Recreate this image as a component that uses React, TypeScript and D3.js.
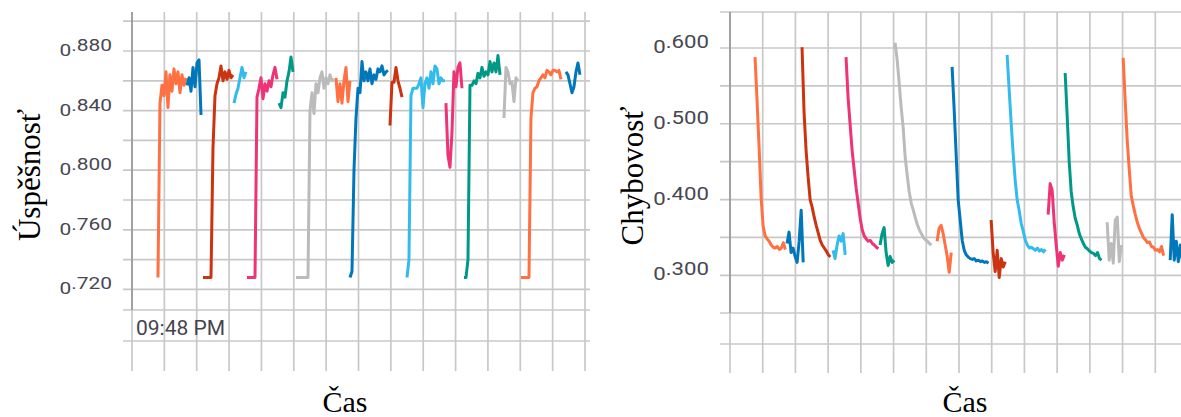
import React from "react";
import * as d3 from "d3";

// ---- data -------------------------------------------------------------
// time in minutes from the first grid line; one logged sample every TIME_STEP
const TIME_STEP = 0.0618;
const timeTicks = d3.range(0, 15);
const timeLabel = "09:48 PM";

const runColors = [
  "#ff7043", "#0077bb", "#cc3311", "#33bbee", "#ee3377", "#009988", "#bbbbbb", "#ff7043",
  "#0077bb", "#cc3311", "#33bbee", "#ee3377", "#009988", "#bbbbbb", "#ff7043", "#0077bb",
];

// accuracy (Úspěšnosť)
const accStarts = [0.803, 1.7, 2.194, 3.152, 3.554, 4.543, 5.068, 6.304, 6.737, 7.973, 8.498, 9.703, 10.26, 11.496, 12.021, 13.412];
const acc01 = [0.728, 0.845, 0.857, 0.85, 0.866, 0.842, 0.864, 0.853, 0.868, 0.858, 0.866, 0.852, 0.864, 0.857, 0.862];
const acc02 = [0.857, 0.862, 0.853, 0.869, 0.856, 0.872, 0.874, 0.837];
const acc03 = [0.728, 0.728, 0.728, 0.728, 0.728, 0.815, 0.85, 0.858, 0.862, 0.87, 0.86, 0.866, 0.861, 0.867, 0.862, 0.864];
const acc04 = [0.845, 0.851, 0.855, 0.862, 0.869, 0.862, 0.866];
const acc05 = [0.728, 0.728, 0.728, 0.728, 0.728, 0.849, 0.855, 0.862, 0.848, 0.858, 0.853, 0.86, 0.856, 0.864, 0.869, 0.861];
const acc06 = [0.845, 0.842, 0.852, 0.849, 0.86, 0.866, 0.876, 0.866];
const acc07 = [0.728, 0.728, 0.728, 0.728, 0.728, 0.728, 0.728, 0.84, 0.852, 0.838, 0.858, 0.852, 0.862, 0.866, 0.855, 0.862, 0.858, 0.864, 0.86, 0.861];
const acc08 = [0.862, 0.846, 0.858, 0.845, 0.86, 0.869, 0.846, 0.86];
const acc09 = [0.728, 0.732, 0.8, 0.835, 0.855, 0.852, 0.873, 0.86, 0.866, 0.86, 0.868, 0.858, 0.864, 0.861, 0.868, 0.866, 0.87, 0.864, 0.866, 0.867];
const acc10 = [0.83, 0.859, 0.859, 0.869, 0.86, 0.855, 0.849];
const acc11 = [0.728, 0.74, 0.85, 0.855, 0.855, 0.855, 0.858, 0.862, 0.842, 0.858, 0.862, 0.855, 0.866, 0.858, 0.87, 0.868, 0.858, 0.862, 0.86, 0.86];
const acc12 = [0.845, 0.81, 0.802, 0.825, 0.866, 0.856, 0.869, 0.872, 0.855];
const acc13 = [0.728, 0.728, 0.74, 0.857, 0.857, 0.86, 0.858, 0.865, 0.862, 0.869, 0.863, 0.866, 0.864, 0.873, 0.866, 0.872, 0.866, 0.877, 0.864];
const acc14 = [0.835, 0.869, 0.866, 0.858, 0.859, 0.846, 0.862, 0.86];
const acc15 = [0.728, 0.728, 0.728, 0.728, 0.728, 0.835, 0.852, 0.855, 0.856, 0.86, 0.862, 0.864, 0.862, 0.867, 0.866, 0.864, 0.867, 0.867, 0.866, 0.867, 0.861];
const acc16 = [0.866, 0.864, 0.858, 0.852, 0.856, 0.866, 0.872, 0.864];
const accSeries = [acc01, acc02, acc03, acc04, acc05, acc06, acc07, acc08, acc09, acc10, acc11, acc12, acc13, acc14, acc15, acc16];
const accTicks = [0.72, 0.76, 0.8, 0.84, 0.88];
const accGrid = d3.range(0, 10).map((i) => 0.72 + i * 0.02);

// loss (Chybovosť)
const lossStarts = [0.765, 1.743, 2.202, 3.15, 3.547, 4.587, 5.046, 6.33, 6.789, 7.982, 8.471, 9.725, 10.245, 11.529, 12.018, 13.456];
const loss01 = [0.588, 0.531, 0.47, 0.403, 0.365, 0.352, 0.348, 0.345, 0.34, 0.337, 0.336, 0.338, 0.334, 0.336, 0.343, 0.334];
const loss02 = [0.342, 0.357, 0.33, 0.336, 0.325, 0.317, 0.345, 0.386, 0.317];
const loss03 = [0.601, 0.515, 0.465, 0.43, 0.4, 0.39, 0.377, 0.366, 0.356, 0.346, 0.34, 0.336, 0.332, 0.327, 0.324];
const loss04 = [0.333, 0.322, 0.34, 0.352, 0.345, 0.355, 0.327];
const loss05 = [0.588, 0.535, 0.5, 0.465, 0.44, 0.415, 0.395, 0.375, 0.36, 0.352, 0.348, 0.345, 0.346, 0.342, 0.34, 0.337, 0.335];
const loss06 = [0.34, 0.355, 0.363, 0.33, 0.313, 0.325, 0.317, 0.32];
const loss07 = [0.607, 0.585, 0.555, 0.522, 0.495, 0.456, 0.432, 0.41, 0.395, 0.386, 0.376, 0.367, 0.36, 0.355, 0.35, 0.347, 0.345, 0.342, 0.34];
const loss08 = [0.345, 0.362, 0.366, 0.355, 0.34, 0.325, 0.304, 0.33];
const loss09 = [0.575, 0.52, 0.46, 0.4, 0.373, 0.346, 0.333, 0.327, 0.324, 0.322, 0.321, 0.322, 0.319, 0.32, 0.318, 0.319, 0.317, 0.318, 0.316];
const loss10 = [0.373, 0.33, 0.305, 0.333, 0.297, 0.322, 0.311, 0.318];
const loss11 = [0.591, 0.545, 0.501, 0.46, 0.425, 0.399, 0.385, 0.368, 0.358, 0.346, 0.34, 0.336, 0.337, 0.335, 0.333, 0.336, 0.332, 0.334, 0.331, 0.334];
const loss12 = [0.38, 0.421, 0.412, 0.37, 0.34, 0.312, 0.33, 0.32, 0.327];
const loss13 = [0.567, 0.51, 0.45, 0.41, 0.39, 0.375, 0.366, 0.355, 0.348, 0.342, 0.337, 0.335, 0.332, 0.33, 0.329, 0.326, 0.33, 0.322, 0.32];
const loss14 = [0.37, 0.32, 0.342, 0.316, 0.373, 0.377, 0.318, 0.34];
const loss15 = [0.587, 0.531, 0.478, 0.44, 0.405, 0.392, 0.38, 0.37, 0.362, 0.356, 0.35, 0.347, 0.343, 0.344, 0.338, 0.337, 0.333, 0.334, 0.331, 0.338, 0.326];
const loss16 = [0.32, 0.38, 0.32, 0.345, 0.318, 0.34, 0.32];
const lossSeries = [loss01, loss02, loss03, loss04, loss05, loss06, loss07, loss08, loss09, loss10, loss11, loss12, loss13, loss14, loss15, loss16];
const lossTicks = [0.3, 0.4, 0.5, 0.6];
const lossGrid = d3.range(0, 7).map((i) => 0.3 + i * 0.05);

// ---- drawing ----------------------------------------------------------
const GRID = "#c8c8c8";
const AXIS = "#999999";
const TICK_COLOR = "#474752";
const SANS = "Roboto, 'Liberation Sans', Arial, sans-serif";
const SERIF = "'Liberation Serif', 'Times New Roman', serif";

type PanelProps = {
  x0: number; x1: number; gridLeft: number; gridRight: number; gridTop: number; gridBottom: number;
  axisBottom: number; extraLines: number[]; topFrame?: number;
  yDomain: [number, number]; yRange: [number, number];
  series: number[][]; starts: number[]; ticks: number[]; grid: number[];
  tickRight: number; tickSize: number; yLabel: string; yLabelX: number; yLabelY: number;
  xLabelX: number; showTime?: boolean;
};

function Panel(p: PanelProps) {
  const x = d3.scaleLinear().domain([0, 14]).range([p.x0, p.x1]);
  const y = d3.scaleLinear().domain(p.yDomain).range(p.yRange);
  const line = d3
    .line<[number, number]>()
    .x((d) => x(d[0]))
    .y((d) => y(d[1]));
  return (
    <g>
      {timeTicks.map((t) => (
        <line key={"v" + t} x1={x(t)} x2={x(t)} y1={p.gridTop} y2={p.gridBottom} stroke={GRID} strokeWidth={1.7} />
      ))}
      {p.grid.map((v) => (
        <line key={"h" + v} x1={p.gridLeft} x2={p.gridRight} y1={y(v)} y2={y(v)} stroke={GRID} strokeWidth={1.7} />
      ))}
      {p.topFrame !== undefined && (
        <line x1={p.gridLeft} x2={p.gridRight} y1={p.topFrame} y2={p.topFrame} stroke={GRID} strokeWidth={1.7} />
      )}
      {p.extraLines.map((yy) => (
        <line key={"e" + yy} x1={p.gridLeft} x2={p.gridRight} y1={yy} y2={yy} stroke={GRID} strokeWidth={1.7} />
      ))}
      <line x1={x(0)} x2={x(0)} y1={p.gridTop} y2={p.axisBottom} stroke={AXIS} strokeWidth={1.7} />
      {p.ticks.map((v) => {
        const s = v.toFixed(3);
        return (
          <g key={"t" + v} transform={`translate(${p.tickRight},${y(v)}) scale(1.27,1)`}>
            <text x={0} y={0} textAnchor="end" fontFamily={SANS} fontSize={p.tickSize} fill={TICK_COLOR}>
              <tspan dy={5}>{s.slice(0, 1)}</tspan>
              <tspan dy={-5}>{s.slice(1)}</tspan>
            </text>
          </g>
        );
      })}
      {p.series.map((vals, i) => {
        const pts = vals.map((v, k) => [p.starts[i] + k * TIME_STEP, v] as [number, number]);
        return (
          <path key={"s" + i} d={line(pts) || ""} fill="none" stroke={runColors[i]} strokeWidth={3}
            strokeLinejoin="round" strokeLinecap="butt" />
        );
      })}
      {p.showTime && (
        <text x={x(0) + 4} y={335} fontFamily={SANS} fontSize={21} fill="#45454f">{timeLabel}</text>
      )}
      <text transform={`translate(${p.yLabelX},${p.yLabelY}) rotate(-90)`} textAnchor="middle"
        fontFamily={SERIF} fontSize={31} fill="#000">{p.yLabel}</text>
      <text x={p.xLabelX} y={412} textAnchor="middle" fontFamily={SERIF} fontSize={30} fill="#000">Čas</text>
    </g>
  );
}

export default function App() {
  return (
    <svg width={1181} height={417} style={{ position: "absolute", left: 0, top: 0, background: "#fff" }}>
      <rect width={1181} height={417} fill="#fff" />
      <Panel x0={132} x1={585} gridLeft={123} gridRight={590} gridTop={12} gridBottom={371} axisBottom={310}
        extraLines={[310, 341]} yDomain={[0.72, 0.9]} yRange={[289.4, 21.2]} series={accSeries} starts={accStarts}
        ticks={accTicks} grid={accGrid} tickRight={112} tickSize={16.5} yLabel="Úspěšnosť" yLabelX={40} yLabelY={175}
        xLabelX={345} showTime />
      <Panel x0={730} x1={1188} gridLeft={720} gridRight={1181} gridTop={12} gridBottom={373} axisBottom={313}
        extraLines={[313, 344]} topFrame={12} yDomain={[0.3, 0.6]} yRange={[275.3, 48]} series={lossSeries}
        starts={lossStarts} ticks={lossTicks} grid={lossGrid} tickRight={709} tickSize={17.5} yLabel="Chybovosť"
        yLabelX={643} yLabelY={176} xLabelX={965} />
    </svg>
  );
}
